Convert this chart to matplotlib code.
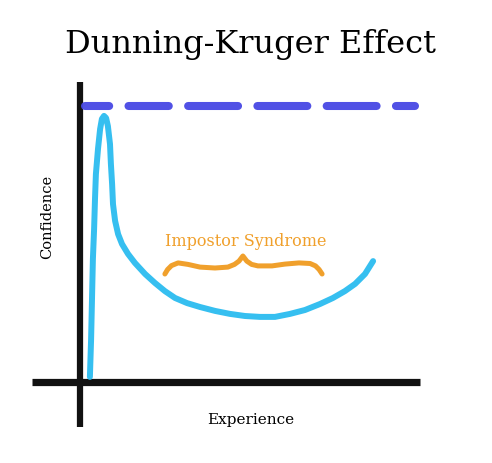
import matplotlib.pyplot as plt

# Hand-drawn style Dunning-Kruger sketch (arbitrary units)
experience = [0.33, 0.37, 0.40, 0.43, 0.47, 0.50, 0.53, 0.60, 0.67, 0.73,
              0.80, 0.87, 0.93, 1.00, 1.03, 1.07, 1.10, 1.17, 1.27, 1.40,
              1.60, 1.83, 2.17, 2.50, 2.83, 3.17, 3.57, 4.00, 4.50, 5.00,
              5.50, 6.00, 6.50, 7.00, 7.50, 8.00, 8.43, 8.83, 9.17, 9.50, 9.77]
confidence = [0.17, 1.43, 2.77, 4.10, 5.10, 6.10, 6.93, 7.77, 8.43, 8.77,
              8.87, 8.80, 8.53, 7.93, 7.27, 6.60, 5.93, 5.37, 4.93, 4.60,
              4.27, 3.97, 3.60, 3.30, 3.03, 2.80, 2.63, 2.50, 2.37, 2.27,
              2.20, 2.17, 2.17, 2.27, 2.40, 2.60, 2.80, 3.03, 3.27, 3.60, 4.03]

# curly brace over the dip
brace_x = [2.83, 2.92, 3.05, 3.27, 3.60, 4.00, 4.50, 4.93, 5.15, 5.30, 5.43,
           5.56, 5.72, 5.93, 6.40, 6.83, 7.30, 7.67, 7.85, 7.97, 8.07]
brace_y = [3.60, 3.75, 3.88, 3.97, 3.92, 3.83, 3.80, 3.83, 3.92, 4.03, 4.20,
           4.03, 3.92, 3.87, 3.87, 3.93, 3.97, 3.95, 3.87, 3.75, 3.60]

max_confidence = 9.2
xaxis_span = [-1.6, 11.33]
yaxis_span = [-1.5, 10.0]
dash_span = [0.17, 11.17]

title = 'Dunning-Kruger Effect'
xlabel = 'Experience'
ylabel = 'Confidence'
note = 'Impostor Syndrome'

cyan = '#36bff0'
blue = '#4848e4'
orange = '#f0a02c'
font = 'DejaVu Serif'

fig = plt.figure(figsize=(4.92, 4.64), dpi=100)
ax = fig.add_axes([0, 0, 1, 1])
ax.set_xlim(-80 / 30, 412 / 30)
ax.set_ylim(-81 / 30, 383 / 30)
ax.axis('off')

# axes drawn by hand
ax.plot(xaxis_span, [0, 0], color='#111111', lw=5.2, solid_capstyle='butt')
ax.plot([0, 0], yaxis_span, color='#111111', lw=4.5, solid_capstyle='butt')

# ceiling of confidence
ax.plot(dash_span, [max_confidence, max_confidence], color=blue, lw=5.8,
        dashes=(3.0, 2.4, 5.0, 2.4, 6.2, 2.4, 6.2, 2.4, 6.2, 2.4, 6.2, 2.4),
        dash_capstyle='round', alpha=0.95)

# the curve
ax.plot(experience, confidence, color=cyan, lw=4.3,
        solid_capstyle='round', solid_joinstyle='round')

ax.plot(brace_x, brace_y, color=orange, lw=3.6,
        solid_capstyle='round', solid_joinstyle='round')
ax.text(5.53, 4.73, note, color=orange, fontsize=11.5, family=font,
        ha='center', va='center')

fig.text(250 / 492, 1 - 45 / 464, title, fontsize=23, family=font,
         ha='center', va='center')
ax.text(5.7, -1.23, xlabel, fontsize=11, family=font, ha='center', va='center')
ax.text(-1.1, 5.53, ylabel, fontsize=10.5, family=font, rotation=90,
        ha='center', va='center')

fig.savefig('out.png', dpi=100)
